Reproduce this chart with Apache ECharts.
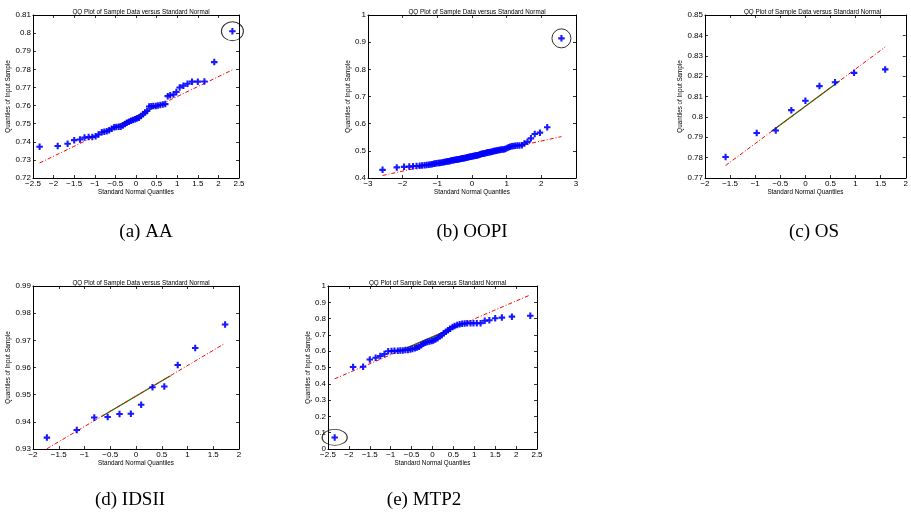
<!DOCTYPE html>
<html><head><meta charset="utf-8">
<script src="https://cdn.jsdelivr.net/npm/echarts@6/dist/echarts.min.js"></script>
<style>html,body{margin:0;padding:0;background:#fff}#c{width:911px;height:515px}</style>
</head><body><div id="c"></div>
<script>
// ---- data ----
const qx52 = [-2.34,-1.90,-1.66,-1.50,-1.36,-1.25,-1.15,-1.06,-0.98,-0.91,-0.83,-0.77,-0.71,-0.65,-0.59,-0.53,-0.48,-0.42,-0.37,-0.32,-0.27,-0.22,-0.17,-0.12,-0.07,-0.02,
  0.02,0.07,0.12,0.17,0.22,0.27,0.32,0.37,0.42,0.48,0.53,0.59,0.65,0.71,0.77,0.83,0.91,0.98,1.06,1.15,1.25,1.36,1.50,1.66,1.90,2.34];
const aaY = [0.7373,0.7377,0.7389,0.7409,0.7413,0.7423,0.7426,0.7427,0.7430,0.7440,
  0.7452,0.7456,0.7458,0.7463,0.7472,0.7480,0.7482,0.7483,0.7483,0.7490,
  0.7498,0.7505,0.7511,0.7516,0.7520,0.7524,0.7528,0.7533,0.7542,0.7552,
  0.7562,0.7570,0.7595,0.7596,0.7597,0.7598,0.7600,0.7603,0.7606,0.7608,
  0.7652,0.7657,0.7661,0.7675,0.7700,0.7710,0.7720,0.7732,0.7732,0.7733,0.7840,0.8010];
const aaFit = [[-2.34,0.7283],[2.34,0.7797]];
const aaIqr = [[-0.67,0.7466],[0.67,0.7614]];

const qx100 = [-2.58,-2.17,-1.96,-1.81,-1.70,-1.60,-1.51,-1.44,-1.37,-1.31,-1.25,-1.20,-1.15,-1.10,-1.06,-1.02,-0.97,-0.94,-0.90,-0.86,
  -0.82,-0.79,-0.76,-0.72,-0.69,-0.66,-0.63,-0.60,-0.57,-0.54,-0.51,-0.48,-0.45,-0.43,-0.40,-0.37,-0.35,-0.32,-0.29,-0.27,
  -0.24,-0.22,-0.19,-0.16,-0.14,-0.11,-0.09,-0.06,-0.04,-0.01,
  0.01,0.04,0.06,0.09,0.11,0.14,0.16,0.19,0.22,0.24,0.27,0.29,0.32,0.35,0.37,0.40,0.43,0.45,0.48,0.51,
  0.54,0.57,0.60,0.63,0.66,0.69,0.72,0.76,0.79,0.82,0.86,0.90,0.94,0.97,1.02,1.06,1.10,1.15,1.20,1.25,
  1.31,1.37,1.44,1.51,1.60,1.70,1.81,1.96,2.17,2.58];
const oopiY = [0.430,0.439,0.441,0.442,0.443,0.444,0.445,0.446,0.447,0.448,
  0.449,0.450,0.451,0.452,0.453,0.454,0.455,0.455,0.456,0.457,
  0.458,0.459,0.460,0.461,0.462,0.462,0.463,0.464,0.465,0.465,
  0.466,0.467,0.467,0.468,0.469,0.469,0.470,0.471,0.472,0.472,
  0.473,0.474,0.474,0.475,0.476,0.476,0.477,0.478,0.478,0.479,
  0.480,0.481,0.481,0.482,0.483,0.483,0.484,0.485,0.486,0.487,
  0.488,0.489,0.489,0.490,0.491,0.492,0.493,0.494,0.495,0.495,
  0.496,0.497,0.498,0.499,0.499,0.500,0.501,0.502,0.503,0.504,
  0.505,0.505,0.506,0.508,0.510,0.513,0.515,0.517,0.518,0.519,
  0.520,0.520,0.521,0.527,0.533,0.546,0.562,0.567,0.587,0.914];
const oopiFit = [[-2.58,0.4093],[2.58,0.5523]];
const oopiIqr = [[-0.67,0.4622],[0.67,0.4994]];

const qx9 = [-1.59,-0.97,-0.59,-0.28,0,0.28,0.59,0.97,1.59];
const osY = [0.7803,0.7921,0.7933,0.8033,0.8079,0.8151,0.8170,0.8216,0.8233];
const osFit = [[-1.59,0.7761],[1.59,0.8343]];
const osIqr = [[-0.68,0.7928],[0.68,0.8176]];

const qx12 = [-1.73,-1.15,-0.81,-0.55,-0.32,-0.10,0.10,0.32,0.55,0.81,1.15,1.73];
const idsiiY = [0.9342,0.9370,0.9416,0.9418,0.9429,0.9430,0.9463,0.9527,0.9530,0.9609,0.9672,0.9758];
const idsiiFit = [[-1.73,0.9301],[1.73,0.9689]];
const idsiiIqr = [[-0.67,0.9420],[0.67,0.9570]];

const mtp2Y = [0.071,0.503,0.505,0.549,0.560,0.571,0.583,0.600,0.601,0.602,
  0.603,0.604,0.605,0.607,0.608,0.611,0.614,0.618,0.622,0.628,
  0.636,0.645,0.652,0.656,0.659,0.662,0.666,0.672,0.680,0.690,
  0.698,0.710,0.720,0.728,0.738,0.748,0.755,0.760,0.765,0.768,
  0.770,0.771,0.771,0.771,0.771,0.772,0.787,0.790,0.802,0.806,0.812,0.818];
const mtp2Fit = [[-2.34,0.4306],[2.34,0.9454]];
const mtp2Iqr = [[-0.67,0.6143],[0.67,0.7617]];

const xTicksA = [-2.5, 2.5, 0.5], yTicksA = [0.72, 0.81, 0.01];
const xTicksB = [-3, 3, 1],       yTicksB = [0.4, 1, 0.1];
const xTicksC = [-2, 2, 0.5],     yTicksC = [0.77, 0.85, 0.01];
const xTicksD = [-2, 2, 0.5],     yTicksD = [0.93, 0.99, 0.01];
const xTicksE = [-2.5, 2.5, 0.5], yTicksE = [0, 1, 0.1];

const titleText = 'QQ Plot of Sample Data versus Standard Normal';
const xName = 'Standard Normal Quantiles';
const yName = 'Quantiles of Input Sample';
const captions = ['(a) AA', '(b) OOPI', '(c) OS', '(d) IDSII', '(e) MTP2'];

// ---- layout ----
const panels = [
  {g:{left:33,top:15,width:206,height:163}, xt:xTicksA, yt:yTicksA, xs:qx52, ys:aaY, fit:aaFit, iqr:aaIqr, ring:51, ringSize:[22,19], cap:[141,229], yGap:15},
  {g:{left:368,top:15,width:208,height:163}, xt:xTicksB, yt:yTicksB, xs:qx100, ys:oopiY, fit:oopiFit, iqr:oopiIqr, ring:99, ringSize:[19,19], cap:[467,229], yGap:10},
  {g:{left:705,top:15,width:205,height:163}, xt:xTicksC, yt:yTicksC, xs:qx9, ys:osY, fit:osFit, iqr:osIqr, ring:-1, cap:[809,229], yGap:16},
  {g:{left:33,top:286,width:206,height:163}, xt:xTicksD, yt:yTicksD, xs:qx12, ys:idsiiY, fit:idsiiFit, iqr:idsiiIqr, ring:-1, cap:[125,497], yGap:15},
  {g:{left:328,top:286,width:209,height:163}, xt:xTicksE, yt:yTicksE, xs:qx52, ys:mtp2Y, fit:mtp2Fit, iqr:mtp2Iqr, ring:0, ringSize:[25,16], cap:[419,497], yGap:10}
];

const FONT = 'Liberation Sans';
const fmt = v => String(+(+v).toFixed(4)).replace('-', '\u2212');
const plusPath = 'path://M3.4,0H6.6V3.4H10V6.6H6.6V10H3.4V6.6H0V3.4H3.4Z';

const grid = [], xAxis = [], yAxis = [], series = [], title = [];
panels.forEach((p, k) => {
  grid.push(Object.assign({containLabel:false}, p.g));
  const axLine = {show:true, onZero:false, lineStyle:{color:'#000', width:1}};
  const tick = {show:true, inside:true, length:3, lineStyle:{color:'#000', width:0.8}};
  xAxis.push({type:'value', gridIndex:k, position:'bottom', min:p.xt[0], max:p.xt[1], interval:p.xt[2],
    axisLine:axLine, axisTick:tick, splitLine:{show:false},
    axisLabel:{show:true, margin:2, fontSize:8, fontFamily:FONT, color:'#000', formatter:fmt, showMinLabel:true, showMaxLabel:true},
    name:xName, nameLocation:'middle', nameGap:9, nameTextStyle:{fontSize:6.3, fontFamily:FONT, color:'#000'}});
  xAxis.push({type:'value', gridIndex:k, position:'top', min:p.xt[0], max:p.xt[1], interval:p.xt[2],
    axisLine:axLine, axisTick:tick, splitLine:{show:false}, axisLabel:{show:false}});
  yAxis.push({type:'value', gridIndex:k, position:'left', min:p.yt[0], max:p.yt[1], interval:p.yt[2],
    axisLine:axLine, axisTick:tick, splitLine:{show:false},
    axisLabel:{show:true, margin:2, fontSize:8, fontFamily:FONT, color:'#000', formatter:fmt, showMinLabel:true, showMaxLabel:true},
    name:yName, nameLocation:'middle', nameGap:p.yGap, nameTextStyle:{fontSize:6.3, fontFamily:FONT, color:'#000'}});
  yAxis.push({type:'value', gridIndex:k, position:'right', min:p.yt[0], max:p.yt[1], interval:p.yt[2],
    axisLine:axLine, axisTick:tick, splitLine:{show:false}, axisLabel:{show:false}});
  const ax = {xAxisIndex:2*k, yAxisIndex:2*k};
  series.push(Object.assign({type:'line', data:p.iqr, symbol:'none', silent:true, z:2,
    lineStyle:{color:'#008000', width:1.2}}, ax));
  series.push(Object.assign({type:'line', data:p.fit, symbol:'none', silent:true, z:3,
    lineStyle:{color:'#ff0000', width:1, type:[4,2,1,2]}}, ax));
  series.push(Object.assign({type:'scatter', data:p.xs.map((x,i)=>[x,p.ys[i]]), symbol:plusPath, symbolSize:6.5, z:4,
    itemStyle:{color:'#0000ff', opacity:0.9}}, ax));
  if (p.ring >= 0) {
    series.push(Object.assign({type:'scatter', data:[[p.xs[p.ring], p.ys[p.ring]]], symbol:'circle', symbolSize:p.ringSize, z:5,
      itemStyle:{color:'rgba(0,0,0,0)', borderColor:'#000', borderWidth:1}}, ax));
  }
  title.push({text:titleText, left:p.g.left + p.g.width/2, top:p.g.top - 11, textAlign:'center',
    textStyle:{fontSize:6.3, fontWeight:'normal', fontFamily:FONT, color:'#000'}});
  title.push({text:captions[k], left:p.cap[0], top:p.cap[1]-11, textAlign:'center',
    textStyle:{fontSize:19, fontWeight:'normal', fontFamily:'Liberation Serif', color:'#000'}});
});

const chart = echarts.init(document.getElementById('c'), null, {renderer:'canvas'});
chart.setOption({animation:false, backgroundColor:'#fff', title, grid, xAxis, yAxis, series});
</script></body></html>
